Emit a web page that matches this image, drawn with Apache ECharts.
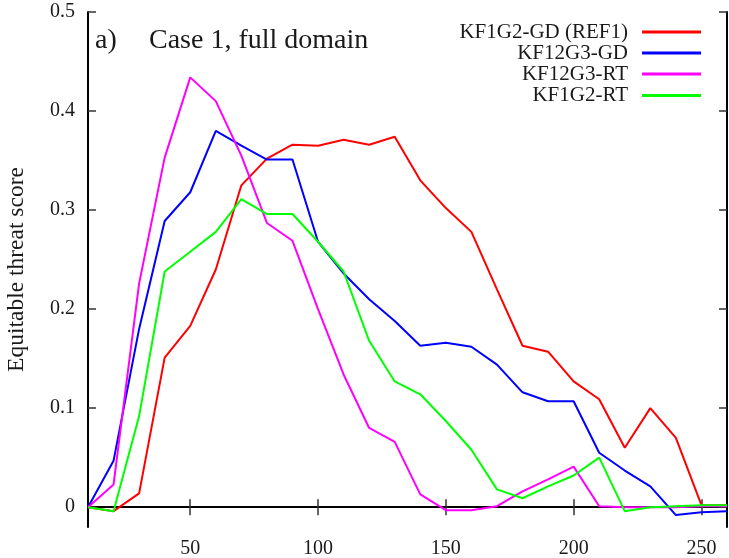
<!DOCTYPE html>
<html>
<head>
<meta charset="utf-8">
<script src="https://cdn.jsdelivr.net/npm/echarts@6/dist/echarts.min.js"></script>
<style>html,body{margin:0;padding:0;background:#fff}#c{width:729px;height:558px}</style>
</head>
<body>
<div id="c"></div>
<script>
const xs = [10,20,30,40,50,60,70,80,90,100,110,120,130,140,150,160,170,180,190,200,210,220,230,240,250,260];
const seriesNames = ['KF1G2-GD (REF1)','KF12G3-GD','KF12G3-RT','KF1G2-RT'];
const red     = [0.0,-0.004,0.014,0.151,0.183,0.24,0.325,0.352,0.366,0.365,0.371,0.366,0.374,0.33,0.302,0.278,0.22,0.163,0.157,0.127,0.109,0.06,0.1,0.07,0.002,0.002];
const blue    = [0.0,0.047,0.18,0.289,0.318,0.38,0.365,0.351,0.351,0.268,0.236,0.21,0.188,0.163,0.166,0.162,0.144,0.116,0.107,0.107,0.055,0.037,0.021,-0.008,-0.005,-0.004];
const magenta = [0.0,0.023,0.226,0.353,0.434,0.41,0.355,0.287,0.269,0.2,0.134,0.08,0.066,0.013,-0.003,-0.003,0.001,0.016,0.028,0.041,0.001,0.0,0.0,0.0,0.001,0.001];
const green   = [0.0,-0.004,0.092,0.238,0.258,0.278,0.311,0.296,0.296,0.268,0.238,0.168,0.127,0.114,0.087,0.058,0.018,0.009,0.021,0.032,0.05,-0.004,0.0,0.001,0.002,0.002];
const xTicks = [50,100,150,200,250];
const yTicks = [0,0.1,0.2,0.3,0.4,0.5];
const colors = ['#ff0000','#0000ff','#ff00ff','#00ff00'];
const values = [red, blue, magenta, green];

const font = 'Liberation Serif';
const chart = echarts.init(document.getElementById('c'), null, {renderer:'canvas'});
const axisLine = {show:true, lineStyle:{color:'#000', width:2}};
const tick = (vals)=>({show:true, inside:true, length:8, lineStyle:{color:'#333', width:1.5}, customValues: vals});
const legendTops = [21.5, 42.5, 63.5, 85];

chart.setOption({
  animation:false,
  backgroundColor:'#fff',
  title:[
    {text:'a)', left:95, top:26.5, padding:0, textStyle:{fontFamily:font, fontSize:28, fontWeight:'normal', color:'#1a1a1a'}},
    {text:'Case 1, full domain', left:149, top:26.5, padding:0, textStyle:{fontFamily:font, fontSize:28, fontWeight:'normal', color:'#1a1a1a'}}
  ],
  legend: seriesNames.map((n,i)=>({
    data:[n], right:28, top:legendTops[i], orient:'horizontal', align:'right', padding:0,
    itemWidth:59, itemHeight:3, itemGap:14, icon:'rect',
    textStyle:{fontFamily:font, fontSize:21, color:'#1a1a1a', padding:[0,9,0,0]},
    selectedMode:false
  })),
  grid:{left:88, right:2, top:12, bottom:31, containLabel:false, outerBoundsMode:'none'},
  xAxis:[
    {type:'value', min:10, max:260, position:'bottom',
     axisLine:axisLine, axisTick:tick(xTicks), splitLine:{show:false},
     axisLabel:{customValues:xTicks, margin:12, fontFamily:font, fontSize:20, color:'#1a1a1a'}},
    {type:'value', min:10, max:260, position:'top',
     axisLine:axisLine, axisTick:tick(xTicks), splitLine:{show:false},
     axisLabel:{show:false, customValues:xTicks}}
  ],
  yAxis:[
    {type:'value', min:-0.02, max:0.5, position:'left',
     name:'Equitable threat score', nameLocation:'middle', nameGap:59,
     nameTextStyle:{fontFamily:font, fontSize:23.5, color:'#1a1a1a'},
     axisLine:axisLine, axisTick:tick(yTicks), splitLine:{show:false},
     axisLabel:{customValues:yTicks, margin:13, fontFamily:font, fontSize:20, color:'#1a1a1a',
       formatter:(v)=>String(Math.round(v*10)/10)}},
    {type:'value', min:-0.02, max:0.5, position:'right',
     axisLine:axisLine, axisTick:tick(yTicks), splitLine:{show:false},
     axisLabel:{show:false, customValues:yTicks}}
  ],
  series: seriesNames.map((n,i)=>({
    name:n, type:'line', xAxisIndex:0, yAxisIndex:0,
    data: xs.map((x,j)=>[x, values[i][j]]),
    showSymbol:false, symbol:'none', smooth:false,
    lineStyle:{color:colors[i], width:2}, itemStyle:{color:colors[i]},
    z: 2+i
  }))
});
</script>
</body>
</html>
